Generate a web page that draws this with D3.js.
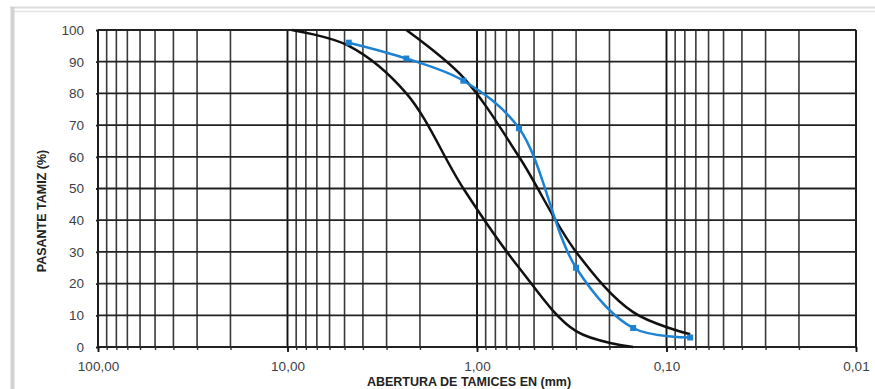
<!DOCTYPE html>
<html>
<head>
<meta charset="utf-8">
<script src="https://cdn.jsdelivr.net/npm/d3@7"></script>
<style>
  body { margin: 0; background: #fff; }
  svg { display: block; font-family: "Liberation Sans", Arial, sans-serif; }
</style>
</head>
<body>
<svg id="chart"></svg>
<script>
// Sieve openings (mm) and passing percentages
const sieves = [4.75, 2.36, 1.18, 0.6, 0.3, 0.15, 0.075];
const passing = [96, 91, 84, 69, 25, 6, 3];

// Envelope limits
const lowerSieves = [9.5, 4.75, 2.36, 1.18, 0.6, 0.3, 0.15];
const lowerLimit = [100, 95, 80, 50, 25, 5, 0];
const upperSieves = [2.36, 1.18, 0.6, 0.3, 0.15, 0.075];
const upperLimit = [100, 85, 60, 30, 11, 4];

// Tick labels
const xMajor = [100, 10, 1, 0.1, 0.01];
const yTicks = [0, 10, 20, 30, 40, 50, 60, 70, 80, 90, 100];

const W = 875, H = 389;
const margin = { top: 30, right: 19, bottom: 42, left: 98 };

const svg = d3.select("#chart").attr("width", W).attr("height", H);

// outer frame of the chart area
svg.append("line").attr("x1", 10).attr("x2", W).attr("y1", 7.5).attr("y2", 7.5)
  .attr("stroke", "#dcdcdc").attr("stroke-width", 2);
svg.append("line").attr("x1", 12).attr("x2", W).attr("y1", 11.5).attr("y2", 11.5)
  .attr("stroke", "#e4e4e4").attr("stroke-width", 1.5);
svg.append("line").attr("x1", 12.5).attr("x2", 12.5).attr("y1", 7).attr("y2", H)
  .attr("stroke", "#d2d2d2").attr("stroke-width", 4);

const x = d3.scaleLog().domain([100, 0.01]).range([margin.left, W - margin.right]);
const y = d3.scaleLinear().domain([0, 100]).range([H - margin.bottom, margin.top]);

// minor + major vertical grid values
const gridX = [];
[0.01, 0.1, 1, 10].forEach((d) => {
  for (let k = 1; k <= 9; k++) gridX.push(+(k * d).toPrecision(3));
});
gridX.push(100);

const grid = svg.append("g");
grid.selectAll(".vg").data(gridX).enter().append("line")
  .attr("x1", (d) => x(d)).attr("x2", (d) => x(d))
  .attr("y1", y(0)).attr("y2", y(100))
  .attr("stroke", (d) => xMajor.includes(d) ? "#111" : "#3a3a3a")
  .attr("stroke-width", (d) => xMajor.includes(d) ? 1.9 : 1.6);

grid.selectAll(".hg").data(yTicks).enter().append("line")
  .attr("x1", x(100)).attr("x2", x(0.01))
  .attr("y1", (d) => y(d)).attr("y2", (d) => y(d))
  .attr("stroke", "#222").attr("stroke-width", 1.8);

const fmt = (d) => d3.format(".2f")(d).replace(".", ",");

// x axis: minor ticks then major ticks with labels
svg.append("g")
  .attr("transform", `translate(0,${y(0)})`)
  .call(d3.axisBottom(x).tickValues(gridX).tickSize(3).tickFormat(""))
  .call((g) => g.select(".domain").remove())
  .selectAll("line").attr("stroke", "#333").attr("stroke-width", 1.4);

const xAxis = svg.append("g")
  .attr("transform", `translate(0,${y(0)})`)
  .call(d3.axisBottom(x).tickValues(xMajor).tickSize(5).tickPadding(9).tickFormat(fmt));
xAxis.select(".domain").remove();
xAxis.selectAll("line").attr("stroke", "#111").attr("stroke-width", 1.8);
xAxis.selectAll("text").attr("font-size", 13.5).attr("fill", "#3e4048")
  .attr("font-family", "Liberation Sans, Arial, sans-serif");

const yAxis = svg.append("g")
  .attr("transform", `translate(${x(100)},0)`)
  .call(d3.axisLeft(y).tickValues(yTicks).tickSize(2).tickPadding(12));
yAxis.select(".domain").remove();
yAxis.selectAll("line").attr("stroke", "#222").attr("stroke-width", 1.8);
yAxis.selectAll("text").attr("font-size", 13.5).attr("fill", "#3e4048")
  .attr("font-family", "Liberation Sans, Arial, sans-serif");

// axis titles
svg.append("text")
  .attr("transform", `translate(46,211) rotate(-90)`)
  .attr("text-anchor", "middle")
  .attr("font-size", 12.5).attr("font-weight", "bold").attr("fill", "#222")
  .text("PASANTE TAMIZ (%)");

svg.append("text")
  .attr("x", 469).attr("y", 385.5)
  .attr("text-anchor", "middle")
  .attr("font-size", 12.5).attr("font-weight", "bold").attr("fill", "#222")
  .text("ABERTURA DE TAMICES EN (mm)");

// curves
const line = d3.line()
  .x((d) => x(d[0]))
  .y((d) => y(d[1]))
  .curve(d3.curveCatmullRom.alpha(0.5));

const lowerData = lowerSieves.map((s, i) => [s, lowerLimit[i]]);
const upperData = upperSieves.map((s, i) => [s, upperLimit[i]]);
const sampleData = sieves.map((s, i) => [s, passing[i]]);

svg.append("path").datum(lowerData).attr("d", line)
  .attr("fill", "none").attr("stroke", "#111").attr("stroke-width", 2.5);
svg.append("path").datum(upperData).attr("d", line)
  .attr("fill", "none").attr("stroke", "#111").attr("stroke-width", 2.5);

svg.append("path").datum(sampleData).attr("d", line)
  .attr("fill", "none").attr("stroke", "#1e82d2").attr("stroke-width", 2.5);

svg.selectAll(".pt").data(sampleData).enter().append("rect")
  .attr("class", "pt")
  .attr("x", (d) => x(d[0]) - 3).attr("y", (d) => y(d[1]) - 3)
  .attr("width", 6).attr("height", 6)
  .attr("fill", "#1e82d2");
</script>
</body>
</html>
